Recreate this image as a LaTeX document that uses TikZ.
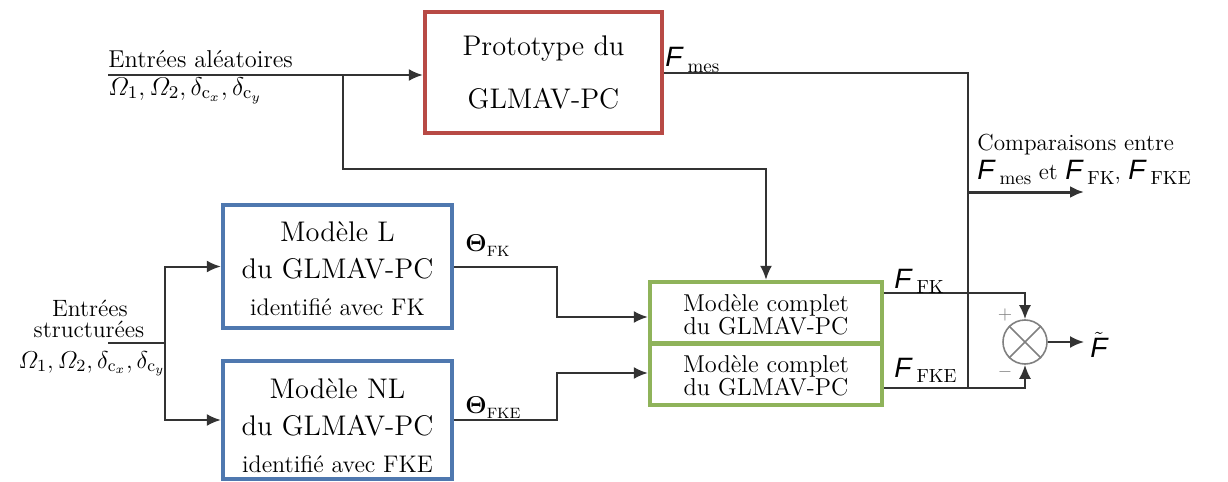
\RequirePackage{fix-cm}
\documentclass[tikz,border=0pt]{standalone}
\usepackage{amsmath}
\usepackage{fontspec}
\usetikzlibrary{arrows.meta,calc}
\newfontfamily\arialf{Liberation Sans}
\definecolor{redb}{HTML}{B84A45}
\definecolor{blueb}{HTML}{4F78AF}
\definecolor{greenb}{HTML}{8FB35A}
\definecolor{linec}{HTML}{333333}
\definecolor{sumc}{HTML}{808080}
\newcommand\FF[1]{{\fontsize{14}{14}\selectfont\arialf\itshape F}\kern2.5pt\raisebox{-2.5pt}{\fontsize{9.5}{9.5}\selectfont #1}}
\newcommand\TT[1]{$\boldsymbol{\Theta}$\raisebox{-2.5pt}{\fontsize{7.5}{7.5}\selectfont #1}}
\newcommand\randin{$\varOmega_1, \varOmega_2, \delta_{\mathrm{c}_x}, \delta_{\mathrm{c}_y}$}
\begin{document}
\begin{tikzpicture}[x=0.5pt,y=-0.5pt,
  box/.style={draw, line width=2.2pt, inner sep=0pt, align=center},
  redbox/.style={box, draw=redb, minimum width=118.5pt, minimum height=60.5pt, font=\fontsize{14.2}{26.5}\selectfont},
  bluebox/.style={box, draw=blueb, minimum width=114.5pt, font=\fontsize{14.2}{18.5}\selectfont},
  greenbox/.style={box, draw=greenb, minimum width=116pt, minimum height=31pt, font=\fontsize{12.2}{11.5}\selectfont},
  ln/.style={draw=linec, line width=1pt},
  arr/.style={ln, -{Latex[length=7pt,width=6pt]}},
  lbl/.style={inner sep=0pt, font=\fontsize{12.2}{14}\selectfont},
  mathlbl/.style={inner sep=0pt, font=\fontsize{12.8}{14}\selectfont},
  sumnode/.style={circle, draw=sumc, line width=0.8pt, minimum size=22pt, inner sep=0pt},
  pm/.style={inner sep=0pt, text=sumc, font=\fontsize{9}{9}\selectfont}
]
\useasboundingbox (0,0) rectangle (1228,482);

% boxes
\node[redbox] (red) at (543.5,72.5) {Prototype du\\GLMAV-PC};
\node[bluebox, minimum height=61.5pt] (bL) at (337.5,266.5) {\rule{0pt}{12pt}Modèle L\\du GLMAV-PC\\{\fontsize{12}{16.5}\selectfont identifié avec FK}};
\node[bluebox, minimum height=59pt] (bN) at (337.5,420) {\rule{0pt}{16pt}Modèle NL\\du GLMAV-PC\\{\fontsize{12}{16.5}\selectfont identifié avec FKE}};
\node[greenbox] (gA) at (766,313) {\rule{0pt}{10pt}Modèle complet\\du GLMAV-PC};
\node[greenbox] (gB) at (766,374) {\rule{0pt}{10pt}Modèle complet\\du GLMAV-PC};
\node[sumnode] (sum) at (1025,342) {};
\draw[sumc, line width=0.8pt] (sum.45) -- (sum.225) (sum.135) -- (sum.315);

% coordinates
\coordinate (inA) at (108,75);
\coordinate (brA) at (343,75);
\coordinate (brA2) at (343,169);
\coordinate (vb) at (968,388);
\coordinate (cmp) at (968,192);
\coordinate (cmpend) at (1084,192);
\coordinate (inB) at (108,343);
\coordinate (brB) at (165,343);
\coordinate (jA) at (557,317);
\coordinate (jB) at (557,373);
\coordinate (fkpt) at (1025,293);
\coordinate (fkept) at (1025,388);
\coordinate (outF) at (1084,342);

% connectors
\draw[arr] (inA) -- (inA -| red.west);
\draw[arr] (brA) -- (brA2) -| (gA.north);
\draw[ln] (red.east) -| (vb);
\draw[arr, line width=1.5pt] (cmp) -- (cmpend);
\draw[ln] (inB) -- (brB);
\draw[arr] (brB) |- (bL.west);
\draw[arr] (brB) |- (bN.west);
\draw[arr] (bL.east) -| (jA) -- (jA -| gA.west);
\draw[arr] (bN.east) -| (jB) -- (jB -| gB.west);
\draw[arr] (gA.east |- fkpt) -| (sum.north);
\draw[arr] (gB.east |- fkept) -| (sum.south);
\draw[arr] (sum.east) -- (outF);

% labels
\node[lbl, anchor=base west] (tA1) at (108,68) {Entrées aléatoires};
\node[mathlbl, anchor=base west] (tA2) at (108,95) {\randin};
\node[lbl, anchor=base, font=\fontsize{11.8}{14}\selectfont] (tB1) at (90,316) {Entrées};
\node[lbl, anchor=base, font=\fontsize{11.8}{14}\selectfont] (tB2) at (89,337) {structurées};
\node[lbl, anchor=base] (tB3) at (92,368) {\randin};
\node[lbl, anchor=base west] (fmes) at (665,67) {\FF{mes}};
\node[lbl, anchor=base west] (ffk) at (894,288) {\FF{FK}};
\node[lbl, anchor=base west] (ffke) at (894,377) {\FF{FKE}};
\node[lbl, anchor=base west] (thk) at (465,251) {\TT{FK}};
\node[lbl, anchor=base west] (thke) at (465,413) {\TT{FKE}};
\node[lbl, anchor=base west, font=\fontsize{11.6}{14}\selectfont] (cmp1) at (977,150) {Comparaisons entre};
\node[lbl, anchor=base west, font=\fontsize{11.6}{14}\selectfont] (cmp2) at (977,179) {\FF{mes} et \FF{FK}, \FF{FKE}};
\node[pm] (plus) at (1005,315) {+};
\node[pm] (minus) at (1005,372) {$-$};
\node[lbl, anchor=west] (ftil) at (1090,345) {$\tilde{\hbox{\fontsize{14}{14}\selectfont\arialf\itshape F}}$};
\end{tikzpicture}
\end{document}
